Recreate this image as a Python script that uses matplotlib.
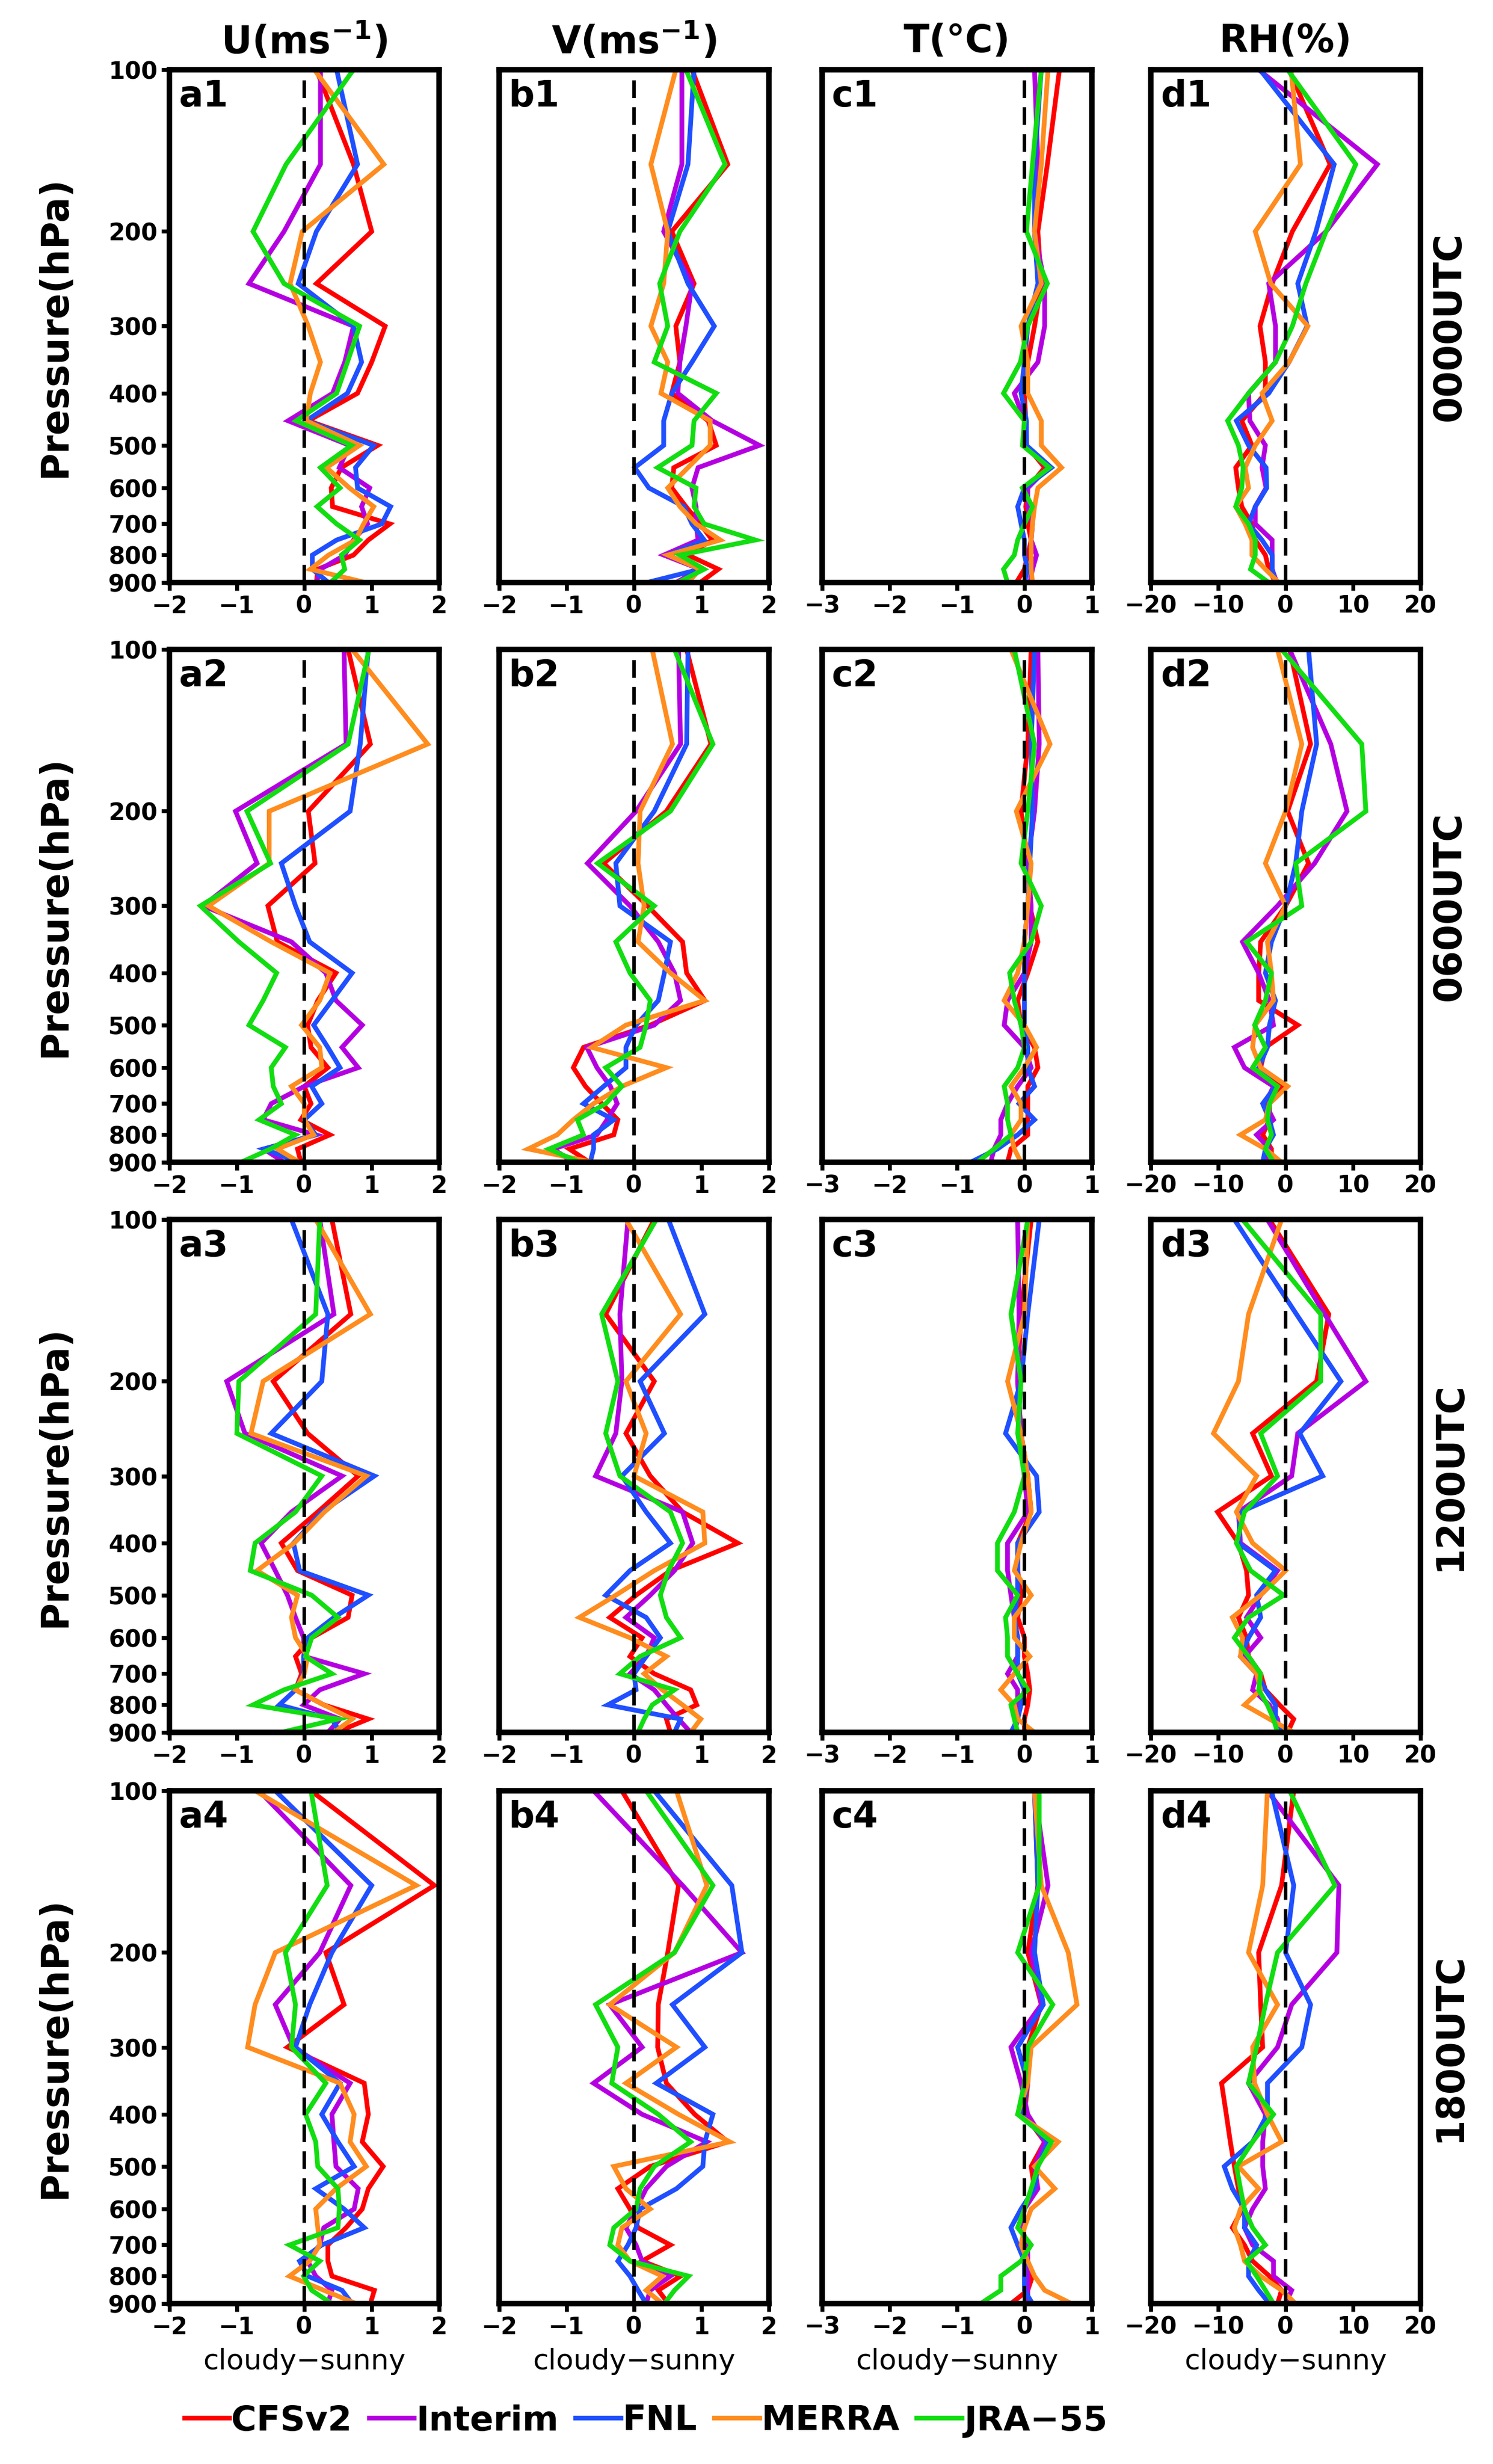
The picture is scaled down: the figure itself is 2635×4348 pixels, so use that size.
import numpy as np
import matplotlib.pyplot as plt
from matplotlib.ticker import NullLocator, FixedLocator, FixedFormatter

plt.rcParams['font.family'] = 'DejaVu Sans'
plt.rcParams['font.weight'] = 'bold'
plt.rcParams['mathtext.default'] = 'bf'

levels = [100, 150, 200, 250, 300, 350, 400, 450, 500, 550, 600, 650, 700, 750, 800, 850, 900]
names = ["CFSv2", "Interim", "FNL", "MERRA", "JRA\u221255"]
colors = ["#ff0000", "#b400e0", "#1f4fff", "#ff8c1e", "#11dd11"]

# U (m/s), cloudy minus sunny
a1 = {"CFSv2":   [0.18, 0.73, 1.0, 0.18, 1.2, 1.0, 0.79, 0.06, 1.09, 0.55, 0.4, 0.42, 1.27, 0.95, 0.73, 0.2, 0.18],
      "Interim": [0.24, 0.24, -0.3, -0.82, 0.73, 0.6, 0.42, -0.24, 0.67, 0.52, 0.97, 0.85, 0.94, 0.73, 0.6, 0.24, 0.18],
      "FNL":     [0.48, 0.79, 0.18, -0.09, 0.73, 0.85, 0.64, 0.03, 1.03, 0.76, 0.79, 1.28, 1.15, 0.48, 0.12, 0.12, 0.36],
      "MERRA":   [0.15, 1.18, -0.03, -0.21, 0.06, 0.24, 0.09, 0.03, 0.82, 0.33, 0.67, 1.03, 0.88, 0.76, 0.36, 0.09, 0.91],
      "JRA":     [0.73, -0.27, -0.76, -0.3, 0.82, 0.64, 0.48, -0.12, 0.7, 0.24, 0.53, 0.19, 0.48, 0.82, 0.55, 0.6, 0.39]}
a2 = {"CFSv2":   [0.65, 0.98, 0.06, 0.16, -0.54, -0.4, 0.47, 0.2, 0.05, 0.1, 0.35, 0.0, 0.1, -0.05, 0.38, -0.1, -0.05],
      "Interim": [0.59, 0.62, -1.02, -0.7, -1.5, -0.19, 0.32, 0.47, 0.86, 0.56, 0.8, 0.0, -0.49, -0.61, 0.17, -0.6, -0.3],
      "FNL":     [0.95, 0.83, 0.68, -0.34, -0.13, 0.08, 0.71, 0.41, 0.14, 0.35, 0.53, 0.11, 0.26, 0.0, 0.17, -0.6, -0.07],
      "MERRA":   [0.71, 1.83, -0.52, -0.52, -1.42, -0.49, 0.38, 0.23, -0.04, 0.23, 0.26, -0.19, 0.0, 0.0, 0.14, -0.4, -0.07],
      "JRA":     [0.96, 0.65, -0.85, -0.5, -1.54, -0.97, -0.41, -0.61, -0.82, -0.28, -0.49, -0.46, -0.34, -0.67, -0.13, -0.5, -0.94]}
a3 = {"CFSv2":   [0.41, 0.69, -0.46, 0.05, 0.8, 0.2, -0.34, -0.1, 0.71, 0.65, 0.11, -0.13, -0.04, -0.13, 0.29, 0.95, 0.47],
      "Interim": [0.23, 0.44, -1.15, -0.88, 0.56, -0.19, -0.64, -0.43, -0.25, -0.13, -0.01, 0.0, 0.89, 0.23, -0.01, 0.53, 0.35],
      "FNL":     [-0.19, 0.35, 0.26, -0.49, 1.04, 0.26, -0.16, -0.07, 0.95, 0.44, 0.05, -0.01, -0.01, -0.13, -0.37, 0.41, 0.53],
      "MERRA":   [0.17, 0.98, -0.61, -0.79, 0.92, 0.3, -0.15, -0.7, -0.1, -0.19, -0.13, 0.05, 0.0, -0.13, 0.29, 0.71, 0.44],
      "JRA":     [0.23, 0.17, -0.97, -1.0, 0.26, -0.13, -0.73, -0.8, 0.11, 0.5, 0.11, 0.02, 0.41, -0.3, -0.76, 0.5, -0.34]}
a4 = {"CFSv2":   [0.1, 1.93, 0.32, 0.59, -0.25, 0.89, 0.95, 0.86, 1.17, 0.95, 0.86, 0.62, 0.35, 0.35, 0.41, 1.04, 0.98],
      "Interim": [-0.67, 0.69, 0.23, -0.43, -0.16, 0.68, 0.41, 0.44, 0.47, 0.8, 0.74, 0.29, 0.23, 0.05, 0.17, 0.41, 0.35],
      "FNL":     [-0.43, 1.0, 0.41, 0.08, -0.13, 0.53, 0.26, 0.5, 0.74, 0.17, 0.59, 0.89, 0.26, -0.07, 0.05, 0.56, 0.71],
      "MERRA":   [-0.73, 1.66, -0.43, -0.73, -0.84, 0.53, 0.74, 0.68, 0.92, 0.47, 0.17, 0.2, 0.23, 0.08, -0.22, 0.29, 0.77],
      "JRA":     [0.1, 0.34, -0.28, -0.13, -0.19, 0.32, 0.02, 0.17, 0.2, 0.5, 0.52, 0.5, -0.22, 0.23, -0.01, 0.11, 0.41]}

# V (m/s)
b1 = {"CFSv2":   [0.86, 1.39, 0.56, 0.89, 0.62, 0.68, 0.56, 1.1, 1.22, 0.59, 0.56, 0.77, 0.98, 1.16, 0.8, 1.25, 0.98],
      "Interim": [0.71, 0.71, 0.44, 0.86, 0.77, 0.68, 0.65, 1.16, 1.86, 0.95, 0.86, 0.92, 0.92, 0.95, 0.44, 0.98, 0.62],
      "FNL":     [0.89, 0.8, 0.5, 0.8, 1.19, 0.86, 0.56, 0.44, 0.44, 0.01, 0.22, 0.74, 0.86, 1.04, 0.5, 0.98, 0.19],
      "MERRA":   [0.62, 0.25, 0.5, 0.44, 0.25, 0.5, 0.4, 1.13, 1.13, 0.8, 0.5, 0.68, 0.92, 1.28, 0.5, 0.98, 0.8],
      "JRA":     [0.77, 1.35, 0.68, 0.38, 0.5, 0.3, 1.22, 0.89, 0.86, 0.35, 0.92, 0.89, 1.04, 1.8, 0.68, 1.04, 0.65]}
b2 = {"CFSv2":   [0.78, 1.14, 0.48, -0.45, 0.2, 0.72, 0.78, 1.05, 0.24, -0.75, -0.9, -0.72, -0.48, -0.24, -0.3, -0.96, -0.66],
      "Interim": [0.66, 0.69, 0.03, -0.69, -0.06, 0.36, 0.6, 0.69, 0.3, -0.7, -0.55, -0.35, -0.25, -0.4, -0.55, -1.2, -0.9],
      "FNL":     [0.8, 0.78, 0.3, -0.27, -0.21, 0.54, 0.45, 0.36, 0.03, -0.12, -0.12, -0.45, -0.75, -0.3, -0.6, -0.6, -0.65],
      "MERRA":   [0.27, 0.57, 0.09, 0.06, 0.15, 0.06, 0.54, 1.05, -0.12, -0.63, 0.48, -0.18, -0.6, -0.9, -1.14, -1.57, -0.6],
      "JRA":     [0.6, 1.17, 0.54, -0.54, 0.3, -0.27, -0.06, 0.24, 0.18, 0.09, -0.42, -0.18, -0.42, -0.84, -0.75, -1.26, -0.81]}
b3 = {"CFSv2":   [0.3, -0.42, 0.3, -0.12, 0.24, 0.72, 1.54, 0.54, 0.03, -0.36, 0.12, -0.06, 0.3, 0.84, 0.93, 0.48, 0.54],
      "Interim": [-0.09, -0.21, -0.18, -0.27, -0.57, 0.72, 0.87, 0.6, 0.24, -0.12, 0.3, 0.18, -0.06, 0.3, 0.48, 0.66, 0.84],
      "FNL":     [0.51, 1.05, 0.09, 0.45, -0.18, 0.18, 0.54, -0.06, -0.42, 0.18, 0.39, 0.18, 0.0, 0.03, -0.39, 0.69, 0.6],
      "MERRA":   [-0.12, 0.69, -0.12, 0.18, 0.0, 1.02, 1.05, 0.3, -0.27, -0.81, -0.06, 0.48, 0.15, 0.42, 0.72, 0.99, 0.84],
      "JRA":     [0.33, -0.48, -0.24, -0.42, -0.21, 0.54, 0.72, 0.51, 0.39, 0.48, 0.69, 0.09, -0.21, 0.6, 0.27, 0.15, 0.06]}
b4 = {"CFSv2":   [-0.18, 0.66, 0.5, 0.36, 0.35, 0.48, 0.9, 1.39, 0.24, -0.24, -0.06, 0.06, 0.54, 0.12, 0.69, 0.36, 0.51],
      "Interim": [-0.6, 0.72, 1.6, -0.36, 0.12, -0.6, 0.12, 1.08, 0.48, 0.18, 0.03, -0.12, 0.03, 0.12, 0.54, 0.24, 0.18],
      "FNL":     [0.3, 1.45, 1.6, 0.57, 1.05, 0.33, 1.17, 1.05, 1.02, 0.63, 0.09, 0.03, -0.09, -0.24, -0.06, 0.06, 0.18],
      "MERRA":   [0.63, 1.08, 0.6, -0.36, 0.63, -0.12, 0.66, 1.42, -0.3, -0.12, 0.24, -0.18, -0.24, -0.06, 0.42, 0.18, 0.42],
      "JRA":     [0.18, 1.17, 0.6, -0.57, -0.24, -0.33, 0.36, 0.84, 0.3, 0.09, 0.03, -0.3, -0.36, -0.06, 0.81, 0.6, 0.45]}

# T (degC)
c1 = {"CFSv2":   [0.52, 0.34, 0.2, 0.25, 0.15, 0.05, 0.0, 0.02, 0.03, 0.3, 0.05, 0.02, 0.05, 0.1, 0.05, 0.0, -0.12],
      "Interim": [0.15, 0.2, 0.15, 0.3, 0.3, 0.2, -0.15, 0.0, 0.0, 0.35, 0.05, 0.05, 0.12, 0.1, 0.18, 0.12, 0.08],
      "FNL":     [0.25, 0.15, 0.15, 0.2, 0.05, 0.0, -0.05, 0.03, 0.03, 0.4, 0.0, -0.1, -0.05, 0.0, 0.0, 0.05, 0.0],
      "MERRA":   [0.35, 0.25, 0.15, 0.25, -0.05, 0.05, 0.05, 0.25, 0.25, 0.55, 0.2, 0.15, 0.12, 0.1, 0.1, 0.1, 0.12],
      "JRA":     [0.25, 0.12, 0.03, 0.34, 0.05, -0.06, -0.31, 0.0, -0.03, 0.37, -0.03, 0.12, 0.0, -0.1, -0.15, -0.31, -0.25]}
c2 = {"CFSv2":   [0.1, 0.05, -0.05, 0.05, 0.08, 0.2, 0.05, -0.1, -0.05, 0.15, 0.2, 0.05, 0.05, 0.05, 0.05, -0.2, -0.25],
      "Interim": [0.2, 0.22, 0.15, 0.05, 0.1, 0.1, 0.0, -0.25, -0.3, 0.0, 0.1, -0.1, -0.25, -0.35, -0.35, -0.45, -0.5],
      "FNL":     [0.15, 0.1, 0.12, 0.08, 0.05, 0.0, 0.0, 0.0, 0.0, 0.05, 0.05, 0.15, -0.08, 0.15, -0.1, -0.4, -0.8],
      "MERRA":   [-0.2, 0.38, -0.12, 0.1, 0.05, 0.0, -0.1, -0.3, 0.0, 0.18, 0.0, -0.2, -0.05, -0.05, -0.2, -0.15, -0.05],
      "JRA":     [-0.15, 0.15, 0.05, -0.05, 0.25, 0.1, -0.22, -0.15, -0.05, 0.0, -0.1, -0.3, -0.25, -0.25, -0.2, -0.45, -0.7]}
c3 = {"CFSv2":   [0.1, -0.05, -0.1, -0.05, 0.05, 0.1, -0.1, -0.1, -0.05, -0.1, 0.0, 0.0, 0.05, 0.08, 0.05, 0.0, 0.0],
      "Interim": [-0.1, -0.08, -0.1, -0.05, 0.0, 0.05, -0.25, -0.25, -0.2, -0.15, -0.1, -0.1, -0.25, -0.1, -0.1, -0.1, -0.15],
      "FNL":     [0.22, 0.05, -0.05, -0.28, 0.18, 0.22, -0.1, -0.1, -0.1, -0.15, -0.1, -0.1, -0.1, 0.0, -0.05, -0.1, -0.2],
      "MERRA":   [0.05, 0.0, -0.25, -0.05, 0.05, 0.1, -0.05, -0.15, 0.1, -0.15, -0.15, 0.08, -0.15, -0.35, -0.15, -0.1, 0.15],
      "JRA":     [0.05, -0.2, -0.05, -0.1, 0.0, -0.15, -0.4, -0.4, -0.1, -0.28, -0.25, -0.25, -0.1, 0.05, -0.2, -0.15, -0.1]}
c4 = {"CFSv2":   [0.15, 0.2, 0.05, 0.25, 0.05, 0.05, 0.0, 0.3, 0.1, 0.15, 0.0, -0.05, 0.05, 0.02, 0.12, 0.05, -0.2],
      "Interim": [0.15, 0.35, 0.1, 0.25, -0.2, -0.05, 0.05, 0.3, 0.15, 0.2, 0.0, -0.05, 0.05, 0.05, 0.05, 0.05, 0.05],
      "FNL":     [0.15, 0.2, 0.15, 0.28, -0.1, 0.05, -0.05, 0.35, 0.2, 0.15, -0.05, -0.2, -0.1, 0.0, 0.0, 0.0, 0.12],
      "MERRA":   [0.15, 0.25, 0.65, 0.78, 0.1, 0.05, -0.1, 0.5, 0.15, 0.45, 0.1, 0.0, -0.05, 0.05, 0.15, 0.3, 0.7],
      "JRA":     [0.22, 0.22, -0.1, 0.42, 0.05, 0.0, -0.1, 0.4, 0.2, 0.1, 0.0, -0.1, 0.1, -0.05, -0.35, -0.35, -0.65]}

# RH (%)
d1 = {"CFSv2":   [0.5, 6.6, 1.0, -2.0, -3.8, -3.0, -3.0, -6.5, -5.0, -7.4, -7.0, -6.5, -5.0, -4.5, -3.0, -2.5, -1.5],
      "Interim": [-4.0, 13.6, 6.0, -2.5, -1.5, -1.5, -5.5, -5.3, -3.0, -3.5, -2.9, -4.5, -4.5, -2.0, -2.0, -2.0, -1.3],
      "FNL":     [-3.8, 7.2, 4.5, 1.8, 3.2, 0.5, -2.5, -7.3, -5.5, -2.9, -2.8, -4.5, -5.5, -3.5, -2.0, -2.0, -1.5],
      "MERRA":   [0.8, 2.2, -4.5, -2.2, 3.3, 0.5, -3.5, -2.0, -4.5, -6.0, -5.5, -7.4, -6.0, -5.0, -5.0, -3.0, -1.0],
      "JRA":     [0.3, 10.4, 6.0, 3.0, 1.0, -1.5, -5.5, -8.6, -7.0, -6.3, -6.5, -7.4, -5.5, -4.5, -4.5, -5.2, -2.5]}
d2 = {"CFSv2":   [0.6, 3.7, 0.3, 3.4, 0.0, -3.7, -4.0, -4.0, 1.8, -3.0, -3.7, -0.3, -2.4, -2.4, -3.4, -2.1, -2.1],
      "Interim": [0.6, 6.7, 9.1, 4.3, -1.2, -6.4, -4.0, -2.4, -1.8, -7.6, -6.1, -1.8, -3.0, -1.8, -4.3, -2.4, -3.0],
      "FNL":     [3.4, 4.6, 2.4, 1.5, 0.0, -2.1, -3.0, -1.5, -2.4, -2.7, -4.0, -1.5, -3.4, -2.4, -1.8, -3.0, -3.4],
      "MERRA":   [-1.2, 2.4, 0.0, -3.0, 0.0, -2.7, -2.1, -1.8, -4.5, -4.9, -3.7, 0.3, -2.4, -3.0, -6.7, -3.0, -0.6],
      "JRA":     [-0.6, 11.3, 11.9, 1.5, 2.4, -5.8, -2.1, -3.0, -4.6, -3.0, -4.9, -1.2, -2.4, -2.7, -2.1, -3.0, -1.8]}
d3 = {"CFSv2":   [-2.4, 6.4, 4.6, -4.9, -2.1, -10.1, -7.0, -5.8, -5.5, -7.0, -5.8, -5.5, -3.7, -3.0, -0.9, 1.2, 0.3],
      "Interim": [-2.7, 5.8, 11.9, 1.8, 0.9, -7.0, -6.7, -1.2, -3.7, -5.8, -3.7, -6.1, -4.3, -4.9, -2.4, -1.2, -0.9],
      "FNL":     [-7.6, 1.6, 8.2, 2.1, 5.5, -6.7, -7.0, -1.5, -4.3, -3.7, -5.5, -6.7, -4.3, -3.0, -1.5, -1.5, -0.6],
      "MERRA":   [-0.6, -5.5, -7.0, -10.7, -4.3, -7.3, -4.9, 0.0, -3.7, -7.9, -6.4, -6.7, -4.3, -3.7, -6.1, -2.4, 1.2],
      "JRA":     [-6.4, 5.2, 5.2, -3.7, -1.2, -6.1, -7.3, -5.2, -0.3, -5.5, -7.6, -5.5, -3.7, -4.0, -2.7, -1.8, -1.2]}
d4 = {"CFSv2":   [1.2, -0.6, -4.0, -3.7, -3.4, -9.5, -8.8, -8.2, -7.6, -7.0, -6.4, -7.9, -6.1, -4.9, -2.4, -0.6, -1.2],
      "Interim": [-2.7, 7.9, 7.6, 0.9, -1.2, -5.5, -3.0, -3.4, -3.4, -3.0, -4.9, -6.1, -4.9, -1.8, -1.8, 0.9, 0.0],
      "FNL":     [-2.1, 1.2, 0.0, 3.7, 2.4, -2.7, -2.7, -4.9, -9.1, -7.9, -6.1, -6.1, -4.3, -5.5, -5.5, -4.0, -2.4],
      "MERRA":   [-2.7, -3.4, -5.5, -1.2, -4.9, -4.6, -2.7, -0.6, -7.0, -4.0, -6.7, -7.6, -6.7, -6.1, -3.7, -0.6, 1.5],
      "JRA":     [0.6, 7.3, -1.2, -3.0, -4.3, -5.5, -1.8, -4.9, -7.3, -6.7, -6.1, -4.9, -3.0, -5.8, -4.3, -3.0, -1.8]}

panels = [[a1, b1, c1, d1], [a2, b2, c2, d2], [a3, b3, c3, d3], [a4, b4, c4, d4]]
panel_tags = ["a", "b", "c", "d"]
col_titles = ["U(ms$^{-1}$)", "V(ms$^{-1}$)", "T(\u00b0C)", "RH(%)"]
xlims = [(-2, 2), (-2, 2), (-3, 1), (-20, 20)]
xticks = [[-2, -1, 0, 1, 2], [-2, -1, 0, 1, 2], [-3, -2, -1, 0, 1], [-20, -10, 0, 10, 20]]
row_titles = ["0000UTC", "0600UTC", "1200UTC", "1800UTC"]

W, H = 2635, 4348
fig = plt.figure(figsize=(W / 100, H / 100), dpi=100)

lefts = [299, 881, 1451, 2031]
tops = [123, 1146, 2152, 3160]
pw, ph = 476, 905

for r in range(4):
    for c in range(4):
        ax = fig.add_axes([lefts[c] / W, 1 - (tops[r] + ph) / H, pw / W, ph / H])
        data = panels[r][c]
        for key, col in zip(data, colors):
            ax.plot(data[key], levels, color=col, lw=6, zorder=2,
                    solid_joinstyle='miter')
        ax.axvline(0, color='k', ls=(0, (5, 2.6)), lw=4.5, zorder=3)
        ax.set_yscale('log')
        ax.set_ylim(900, 100)
        ax.set_xlim(*xlims[c])
        ax.xaxis.set_major_locator(FixedLocator(xticks[c]))
        ax.yaxis.set_major_locator(FixedLocator(levels[::2]))
        ax.yaxis.set_major_formatter(FixedFormatter([str(v) for v in levels[::2]]))
        ax.yaxis.set_minor_locator(NullLocator())
        ax.xaxis.set_minor_locator(NullLocator())
        for sp in ax.spines.values():
            sp.set_linewidth(7)
        ax.tick_params(axis='both', direction='out', length=10, width=5,
                       labelsize=30, pad=5)
        if c > 0:
            ax.tick_params(axis='y', left=False, labelleft=False)
        ax.text(0.035, 0.948, f"{panel_tags[c]}{r + 1}", transform=ax.transAxes,
                ha='left', va='center', fontsize=46, weight='bold')
        if r == 0:
            ax.text(0.5, 1.0 + 50 / ph, col_titles[c], transform=ax.transAxes,
                    ha='center', va='center', fontsize=48, weight='bold')
        if r == 3:
            fig.text((lefts[c] + pw / 2) / W, 1 - 4167 / H, "cloudy\u2212sunny",
                     ha='center', va='center', fontsize=36, weight='normal')
    yc = 1 - (tops[r] + ph / 2) / H
    fig.text(97 / W, yc, "Pressure(hPa)", rotation=90, ha='center', va='center',
             fontsize=48, weight='bold')
    fig.text(2558 / W, yc, row_titles[r], rotation=90, ha='center', va='center',
             fontsize=48, weight='bold')

handles = fig.axes[0].get_lines()[:5]
fig.legend(handles, names, loc='center', bbox_to_anchor=(1140 / W, 1 - 4272 / H),
           ncol=5, frameon=False, fontsize=44, handlelength=1.3,
           handletextpad=0.05, columnspacing=0.5)

fig.savefig("out.png", dpi=100, facecolor='white')
